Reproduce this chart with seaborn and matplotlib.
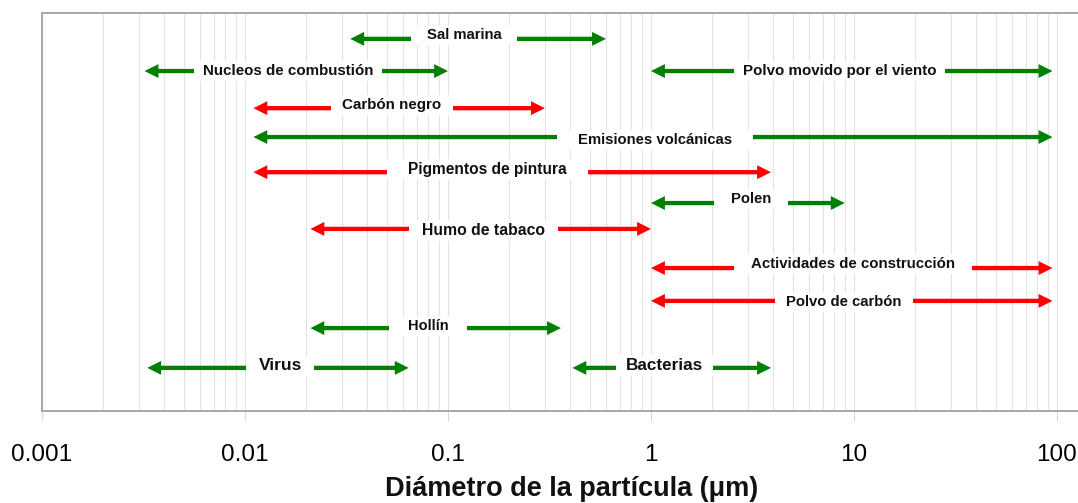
import numpy as np
import pandas as pd
import matplotlib
matplotlib.use("Agg")
import matplotlib.pyplot as plt
from matplotlib.ticker import FixedLocator, NullFormatter
from matplotlib.path import Path
import seaborn as sns

# ---- data ----
names = ["Sal marina", "Nucleos de combustión", "Polvo movido por el viento",
         "Carbón negro", "Emisiones volcánicas", "Pigmentos de pintura", "Polen",
         "Humo de tabaco", "Actividades de construcción", "Polvo de carbón",
         "Hollín", "Virus", "Bacterias"]
size_min = [0.033, 0.0032, 1.0, 0.011, 0.011, 0.011, 1.0, 0.021, 1.0, 1.0, 0.021, 0.0033, 0.41]
size_max = [0.6, 0.1, 95, 0.3, 95, 3.9, 9.0, 1.0, 95, 95, 0.36, 0.064, 3.9]
kind = ["g", "g", "g", "r", "g", "r", "g", "r", "r", "r", "g", "g", "g"]
row = [11.22, 10.25, 10.25, 9.13, 8.26, 7.2, 6.27, 5.49, 4.31, 3.32, 2.5, 1.3, 1.3]
label_x = [0.12, 0.0163, 8.5, 0.053, 1.05, 0.157, 3.11, 0.1496, 9.9, 8.93, 0.0797, 0.0149, 1.17]
label_y = [11.34, 10.25, 10.25, 9.22, 8.17, 7.29, 6.39, 5.43, 4.43, 3.29, 2.56, 1.36, 1.36]
tick_vals = [0.001, 0.01, 0.1, 1, 10, 100]
tick_labels = ["0.001", "0.01", "0.1", "1", "10", "100"]
xlabel = "Diámetro de la partícula (μm)"

# ---- per-label style ----
label_size = [10.7, 10.9, 10.9, 10.9, 10.7, 11.2, 10.7, 11.3, 10.8, 10.7, 10.5, 12.6, 12.3]
label_gap = [16, 9, 9, 11, 21, 21, 17, 13, 17, 11, 19, 12, 10]  # px of white around text

df = pd.DataFrame(dict(name=names, lo=size_min, hi=size_max, kind=kind,
                       row=row, lx=label_x, ly=label_y, fs=label_size, gap=label_gap))

# ---- style ----
sns.set_theme(style="white")
plt.rcParams["font.family"] = ["Liberation Sans", "DejaVu Sans"]
palette = {"g": "#008000", "r": "#ff0000"}


def white_box(hpad, vpad=3):
    def f(x0, y0, w, h, mutation_size):
        return Path([(x0 - hpad, y0 - vpad), (x0 + w + hpad, y0 - vpad),
                     (x0 + w + hpad, y0 + h + vpad), (x0 - hpad, y0 + h + vpad),
                     (x0 - hpad, y0 - vpad)], closed=True)
    return f


fig = plt.figure(figsize=(10.78, 5.03), dpi=100)
W, H = 1078, 503
ax = fig.add_axes([42 / W, 92 / H, (1102 - 42) / W, (411 - 13) / H])
ax.set_xscale("log")
ax.set_xlim(0.001, 10 ** (-3 + 1060 / 203))
ax.set_ylim(0, 12)

# grid
minors = [m * 10.0 ** e for e in range(-3, 3) for m in range(2, 10)]
ax.xaxis.set_major_locator(FixedLocator(tick_vals))
ax.xaxis.set_minor_locator(FixedLocator(minors))
ax.xaxis.set_minor_formatter(NullFormatter())
ax.set_xticklabels(tick_labels)
ax.grid(True, which="both", axis="x", color="#e2e2e2", lw=0.8, zorder=0)
ax.set_axisbelow(True)
ax.set_yticks([])
ax.tick_params(axis="x", which="major", direction="out", length=7, width=0.8,
               color="#d8d8d8", pad=17, labelsize=17.5, labelcolor="black",
               bottom=True)
ax.tick_params(axis="x", which="minor", length=0)

for s in ["left", "bottom", "top"]:
    ax.spines[s].set_color("#a8a8a8")
    ax.spines[s].set_linewidth(1.4)
ax.spines["right"].set_visible(False)

# arrows and labels
head_len = 10.0   # points
for r in df.itertuples():
    col = palette[r.kind]
    # shaft
    ax.annotate("", xy=(r.hi, r.row), xytext=(r.lo, r.row),
                arrowprops=dict(arrowstyle="-", color=col, lw=3.1,
                                shrinkA=head_len * 0.8, shrinkB=head_len * 0.8,
                                capstyle="butt"), zorder=3)
    # filled heads
    ax.annotate("", xy=(r.hi, r.row), xytext=(r.lo, r.row),
                arrowprops=dict(arrowstyle="<|-|>,head_length=1.0,head_width=0.5",
                                mutation_scale=head_len, facecolor=col,
                                edgecolor="none", lw=0,
                                shrinkA=0, shrinkB=0), zorder=3)
    ax.text(r.lx, r.ly, r.name, ha="center", va="center",
            fontsize=r.fs, fontweight="bold", color="#111111", zorder=4,
            bbox=dict(boxstyle=white_box(r.gap), fc="white", ec="none"))

ax.set_xlabel(xlabel, fontsize=19.5, fontweight="bold", labelpad=7, color="#111111")

fig.savefig("out.png", dpi=100)
